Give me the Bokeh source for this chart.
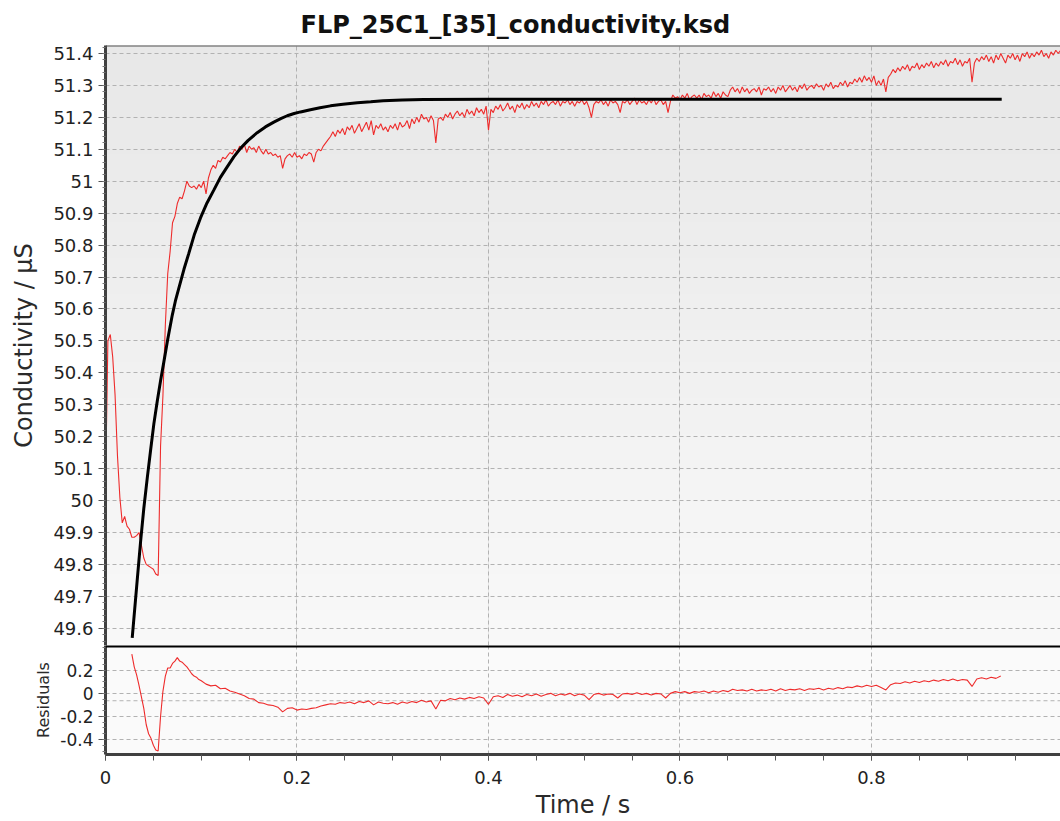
import numpy as np
from bokeh.plotting import figure
from bokeh.layouts import column
from bokeh.models import Range1d, FixedTicker, Grid, Span
from bokeh.embed import file_html
from bokeh.resources import INLINE

# ---------------- data ----------------
TITLE = "FLP_25C1_[35]_conductivity.ksd"
X_LABEL = "Time / s"
Y_LABEL = "Conductivity / µS"
RES_LABEL = "Residuals"

DATA_DT = 0.0025  # sampling step of the measured trace (s)
conductivity = [
    50.04, 50.50, 50.52, 50.45, 50.33, 50.14, 50.01, 49.93, 49.95, 49.92, 49.91, 49.885, 49.885, 49.89, 49.90, 49.86, 49.82, 49.80, 49.795, 49.79,
    49.785, 49.77, 49.765, 50.17, 50.33, 50.55, 50.71, 50.78, 50.87, 50.89, 50.93, 50.95, 50.945, 50.97, 51.00, 50.985, 50.98, 50.985, 50.975, 50.99,
    50.98, 51.00, 50.96, 51.01, 51.035, 51.05, 51.04, 51.065, 51.06, 51.075, 51.07, 51.08, 51.09, 51.085, 51.10, 51.09, 51.11, 51.10, 51.115, 51.09,
    51.11, 51.10, 51.105, 51.09, 51.11, 51.095, 51.085, 51.10, 51.085, 51.09, 51.08, 51.085, 51.075, 51.08, 51.04, 51.07, 51.08, 51.085, 51.075, 51.09,
    51.075, 51.08, 51.07, 51.085, 51.08, 51.09, 51.085, 51.06, 51.09, 51.10, 51.095, 51.11, 51.12, 51.13, 51.14, 51.155, 51.14, 51.16, 51.15, 51.165,
    51.145, 51.17, 51.16, 51.175, 51.15, 51.165, 51.18, 51.155, 51.17, 51.185, 51.16, 51.19, 51.145, 51.175, 51.165, 51.18, 51.16, 51.17, 51.155, 51.175,
    51.165, 51.18, 51.16, 51.185, 51.17, 51.175, 51.19, 51.165, 51.195, 51.18, 51.20, 51.185, 51.21, 51.195, 51.20, 51.185, 51.205, 51.19, 51.12, 51.195,
    51.20, 51.19, 51.21, 51.20, 51.215, 51.195, 51.21, 51.22, 51.205, 51.215, 51.20, 51.225, 51.21, 51.22, 51.205, 51.23, 51.215, 51.225, 51.21, 51.235,
    51.16, 51.225, 51.215, 51.235, 51.225, 51.24, 51.22, 51.23, 51.245, 51.225, 51.235, 51.215, 51.24, 51.23, 51.245, 51.225, 51.24, 51.23, 51.25, 51.235,
    51.245, 51.23, 51.25, 51.24, 51.255, 51.235, 51.245, 51.25, 51.24, 51.255, 51.235, 51.25, 51.245, 51.255, 51.24, 51.25, 51.235, 51.25, 51.245, 51.255,
    51.24, 51.25, 51.23, 51.20, 51.24, 51.25, 51.245, 51.255, 51.24, 51.25, 51.235, 51.255, 51.245, 51.25, 51.24, 51.215, 51.25, 51.245, 51.255, 51.24,
    51.25, 51.26, 51.24, 51.255, 51.245, 51.25, 51.24, 51.255, 51.245, 51.26, 51.24, 51.25, 51.255, 51.24, 51.25, 51.215, 51.25, 51.27, 51.26, 51.265,
    51.255, 51.27, 51.26, 51.275, 51.255, 51.265, 51.27, 51.26, 51.27, 51.255, 51.275, 51.265, 51.27, 51.26, 51.28, 51.265, 51.275, 51.26, 51.28, 51.27,
    51.265, 51.285, 51.295, 51.28, 51.29, 51.275, 51.295, 51.28, 51.29, 51.275, 51.285, 51.29, 51.28, 51.295, 51.27, 51.29, 51.285, 51.295, 51.28, 51.29,
    51.275, 51.295, 51.285, 51.30, 51.28, 51.29, 51.30, 51.285, 51.295, 51.28, 51.30, 51.29, 51.305, 51.285, 51.295, 51.30, 51.29, 51.305, 51.295, 51.30,
    51.285, 51.305, 51.295, 51.31, 51.29, 51.30, 51.295, 51.31, 51.30, 51.315, 51.295, 51.31, 51.305, 51.32, 51.31, 51.325, 51.31, 51.33, 51.315, 51.325,
    51.31, 51.33, 51.30, 51.315, 51.30, 51.32, 51.28, 51.325, 51.335, 51.35, 51.34, 51.355, 51.345, 51.36, 51.35, 51.365, 51.345, 51.36, 51.355, 51.37,
    51.35, 51.365, 51.355, 51.37, 51.36, 51.375, 51.355, 51.37, 51.36, 51.375, 51.365, 51.38, 51.36, 51.375, 51.37, 51.385, 51.365, 51.38, 51.36, 51.375,
    51.37, 51.385, 51.31, 51.37, 51.385, 51.375, 51.39, 51.38, 51.395, 51.375, 51.39, 51.37, 51.395, 51.38, 51.40, 51.385, 51.37, 51.395, 51.385, 51.40,
    51.38, 51.395, 51.375, 51.40, 51.39, 51.405, 51.385, 51.40, 51.39, 51.405, 51.395, 51.41, 51.39, 51.40, 51.385, 51.405, 51.395, 51.41, 51.40, 51.41,
]

fit_time = [0.0279, 0.0331, 0.0366, 0.0400, 0.0436, 0.0470, 0.0505, 0.0540, 0.0575, 0.0610,
            0.0650, 0.0697, 0.0730, 0.0766, 0.0820, 0.0870, 0.0930, 0.0992, 0.1060, 0.1131,
            0.1200, 0.1271, 0.1340, 0.1410, 0.1490, 0.1584, 0.1670, 0.1758, 0.1830, 0.1898,
            0.1970, 0.2037, 0.2140, 0.2240, 0.2350, 0.2480, 0.2630, 0.2770, 0.2900, 0.3100,
            0.3320, 0.4000, 0.5000, 0.6000, 0.7000, 0.8000, 0.9360]
fit_values = [49.57, 49.75, 49.87, 49.975, 50.07, 50.155, 50.24, 50.31, 50.375, 50.435,
              50.505, 50.58, 50.625, 50.665, 50.725, 50.774, 50.835, 50.885, 50.932, 50.972,
              51.012, 51.045, 51.076, 51.103, 51.128, 51.152, 51.170, 51.185, 51.196, 51.205,
              51.212, 51.217, 51.224, 51.230, 51.236, 51.241, 51.246, 51.249, 51.252, 51.254,
              51.256, 51.257, 51.257, 51.257, 51.257, 51.257, 51.257]

RES_EARLY_START, RES_EARLY_DT = 0.0275, 0.0025
res_early = [0.34, 0.23, 0.16, 0.07, -0.03, -0.13, -0.27, -0.35, -0.39, -0.45,
             -0.49, -0.50, -0.20, 0.02, 0.15, 0.22, 0.22, 0.26, 0.28, 0.31,
             0.28, 0.27, 0.25, 0.23, 0.20, 0.17, 0.15, 0.14, 0.12]
RES_LATE_START, RES_LATE_DT = 0.1, 0.005
res_late = [
    0.11, 0.08, 0.065, 0.07, 0.04, 0.045, 0.02, 0.01, -0.005, -0.02,
    -0.045, -0.05, -0.08, -0.085, -0.10, -0.105, -0.12, -0.16, -0.13, -0.125,
    -0.145, -0.135, -0.14, -0.13, -0.125, -0.11, -0.10, -0.09, -0.095, -0.08,
    -0.085, -0.075, -0.09, -0.07, -0.08, -0.065, -0.10, -0.075, -0.085, -0.09,
    -0.08, -0.095, -0.075, -0.085, -0.07, -0.08, -0.06, -0.075, -0.065, -0.135,
    -0.06, -0.065, -0.045, -0.055, -0.04, -0.05, -0.035, -0.045, -0.03, -0.04,
    -0.095, -0.03, -0.02, -0.035, -0.01, -0.025, -0.015, -0.03, -0.01, -0.02,
    -0.005, -0.025, -0.01, 0.0, -0.02, -0.005, -0.015, 0.0, -0.02, -0.005,
    -0.015, -0.055, -0.01, 0.0, -0.015, -0.005, -0.01, -0.04, -0.005, 0.0,
    -0.01, 0.005, -0.01, 0.0, -0.015, 0.0, -0.005, -0.04, 0.0, 0.015,
    0.005, 0.015, 0.0, 0.015, 0.01, 0.02, 0.005, 0.02, 0.01, 0.025,
    0.015, 0.035, 0.025, 0.03, 0.02, 0.035, 0.02, 0.03, 0.025, 0.035,
    0.02, 0.04, 0.025, 0.035, 0.03, 0.04, 0.025, 0.04, 0.035, 0.045,
    0.03, 0.045, 0.035, 0.05, 0.04, 0.055, 0.05, 0.065, 0.055, 0.07,
    0.06, 0.07, 0.05, 0.03, 0.075, 0.09, 0.085, 0.10, 0.09, 0.105,
    0.095, 0.11, 0.10, 0.115, 0.105, 0.12, 0.11, 0.125, 0.11, 0.12,
    0.115, 0.06, 0.125, 0.135, 0.125, 0.14, 0.13, 0.15,
]
RES_EXTRA_LINE = -0.064

x_ticks = [0, 0.2, 0.4, 0.6, 0.8]
x_tick_labels = ["0", "0.2", "0.4", "0.6", "0.8"]
y_ticks = [49.6, 49.7, 49.8, 49.9, 50.0, 50.1, 50.2, 50.3, 50.4, 50.5,
           50.6, 50.7, 50.8, 50.9, 51.0, 51.1, 51.2, 51.3, 51.4]
y_tick_labels = ["49.6", "49.7", "49.8", "49.9", "50", "50.1", "50.2", "50.3", "50.4", "50.5",
                 "50.6", "50.7", "50.8", "50.9", "51", "51.1", "51.2", "51.3", "51.4"]
res_ticks = [-0.4, -0.2, 0, 0.2]
res_tick_labels = ["-0.4", "-0.2", "0", "0.2"]

X_RANGE = (0.0, 0.9974)
Y_RANGE = (49.546, 51.425)
RES_RANGE = (-0.53, 0.415)

# ---------------- derived arrays ----------------
t_data = DATA_DT * np.arange(len(conductivity))
t_res = np.concatenate([RES_EARLY_START + RES_EARLY_DT * np.arange(len(res_early)),
                        RES_LATE_START + RES_LATE_DT * np.arange(len(res_late))])
res_values = res_early + res_late

FONT = "DejaVu Sans"
TXT = "#222222"
GRID = "#b2b2b2"
RED = "#ee2b2b"

x_minor = [round(0.05 * i, 2) for i in range(21)]
y_minor = [round(49.54 + 0.02 * i, 2) for i in range(95)]
res_minor = [round(-0.5 + 0.05 * i, 2) for i in range(19)]

xr = Range1d(*X_RANGE)

# ---------------- main plot ----------------
p = figure(width=1060, height=645, x_range=xr, y_range=Range1d(*Y_RANGE),
           output_backend="svg", toolbar_location=None, x_axis_location=None,
           min_border_left=105, min_border_right=0, min_border_top=45, min_border_bottom=0,
           title=TITLE)
p.title.align = "left"
p.title.offset = 195
p.title.text_font = FONT
p.title.text_font_size = "24px"
p.title.text_font_style = "bold"
p.title.text_color = "#111111"
p.title.standoff = 14

ny = 150
shade = np.linspace(249, 232, ny).astype(np.uint8)
img = np.empty((ny, 1), dtype=np.uint32)
view = img.view(dtype=np.uint8).reshape((ny, 1, 4))
view[:, 0, 0] = shade
view[:, 0, 1] = shade
view[:, 0, 2] = shade
view[:, 0, 3] = 255
p.image_rgba(image=[img], x=X_RANGE[0], y=Y_RANGE[0], dw=X_RANGE[1] - X_RANGE[0],
             dh=Y_RANGE[1] - Y_RANGE[0], level="image")
p.background_fill_color = "#f0f0f0"
p.border_fill_color = "white"
p.outline_line_color = None
p.add_layout(Span(location=Y_RANGE[1], dimension="width", line_color="#505050", line_width=2))

ax = p.yaxis[0]
ax.ticker = FixedTicker(ticks=y_ticks, minor_ticks=y_minor)
ax.major_label_overrides = dict(zip(y_ticks, y_tick_labels))
ax.axis_label = Y_LABEL
ax.axis_label_text_font = FONT
ax.axis_label_text_font_size = "24px"
ax.axis_label_text_font_style = "normal"
ax.axis_label_text_color = "#2a2a2a"
ax.axis_label_standoff = 12
ax.major_label_text_font = FONT
ax.major_label_text_font_size = "18px"
ax.major_label_text_color = TXT
ax.major_label_standoff = 5
ax.axis_line_color = "#404040"
ax.axis_line_width = 3
ax.major_tick_in = 0
ax.major_tick_out = 7
ax.minor_tick_in = 0
ax.minor_tick_out = 3
ax.major_tick_line_color = "#555555"
ax.minor_tick_line_color = "#777777"

p.ygrid.grid_line_color = GRID
p.ygrid.grid_line_dash = "4 3"
p.ygrid.grid_line_width = 1
p.add_layout(Grid(dimension=0, ticker=FixedTicker(ticks=x_ticks[1:]),
                  grid_line_color=GRID, grid_line_dash="4 3", grid_line_width=1))

p.line(t_data, conductivity, line_color=RED, line_width=1.1)
p.line(fit_time, fit_values, line_color="black", line_width=3)

# ---------------- residual plot ----------------
r = figure(width=1060, height=176, x_range=xr, y_range=Range1d(*RES_RANGE),
           output_backend="svg", toolbar_location=None,
           min_border_left=105, min_border_right=0, min_border_top=0, min_border_bottom=0)
r.background_fill_color = "#fafafa"
r.border_fill_color = "white"
r.outline_line_color = None
r.add_layout(Span(location=RES_RANGE[1], dimension="width", line_color="black", line_width=4))

xa = r.xaxis[0]
xa.ticker = FixedTicker(ticks=x_ticks, minor_ticks=x_minor)
xa.major_label_overrides = dict(zip(x_ticks, x_tick_labels))
xa.axis_label = X_LABEL
xa.axis_label_text_font = FONT
xa.axis_label_text_font_size = "24px"
xa.axis_label_text_font_style = "normal"
xa.axis_label_text_color = "#2a2a2a"
xa.axis_label_standoff = 4
xa.major_label_text_font = FONT
xa.major_label_text_font_size = "18px"
xa.major_label_text_color = TXT
xa.major_label_standoff = 10
xa.axis_line_color = "#404040"
xa.axis_line_width = 3
xa.major_tick_in = 0
xa.major_tick_out = 6
xa.minor_tick_in = 0
xa.minor_tick_out = 6
xa.major_tick_line_color = "#555555"
xa.minor_tick_line_color = "#555555"

ya = r.yaxis[0]
ya.ticker = FixedTicker(ticks=res_ticks, minor_ticks=res_minor)
ya.major_label_overrides = dict(zip(res_ticks, res_tick_labels))
ya.axis_label = RES_LABEL
ya.axis_label_text_font = FONT
ya.axis_label_text_font_size = "16px"
ya.axis_label_text_font_style = "normal"
ya.axis_label_text_color = "#2a2a2a"
ya.axis_label_standoff = 4
ya.major_label_text_font = FONT
ya.major_label_text_font_size = "17px"
ya.major_label_text_color = TXT
ya.major_label_standoff = 5
ya.axis_line_color = "#404040"
ya.axis_line_width = 3
ya.major_tick_in = 0
ya.major_tick_out = 7
ya.minor_tick_in = 0
ya.minor_tick_out = 3
ya.major_tick_line_color = "#555555"
ya.minor_tick_line_color = "#777777"

for g in (r.xgrid[0], r.ygrid[0]):
    g.grid_line_color = GRID
    g.grid_line_dash = "4 3"
    g.grid_line_width = 1
r.xgrid[0].ticker = FixedTicker(ticks=x_ticks[1:])
r.add_layout(Span(location=RES_EXTRA_LINE, dimension="width", line_color=GRID,
                  line_dash="4 3", line_width=1, level="underlay"))

r.line(t_res, res_values, line_color=RED, line_width=1.1)

layout = column(p, r, spacing=0)
open("out.html", "w").write(file_html(layout, INLINE))
